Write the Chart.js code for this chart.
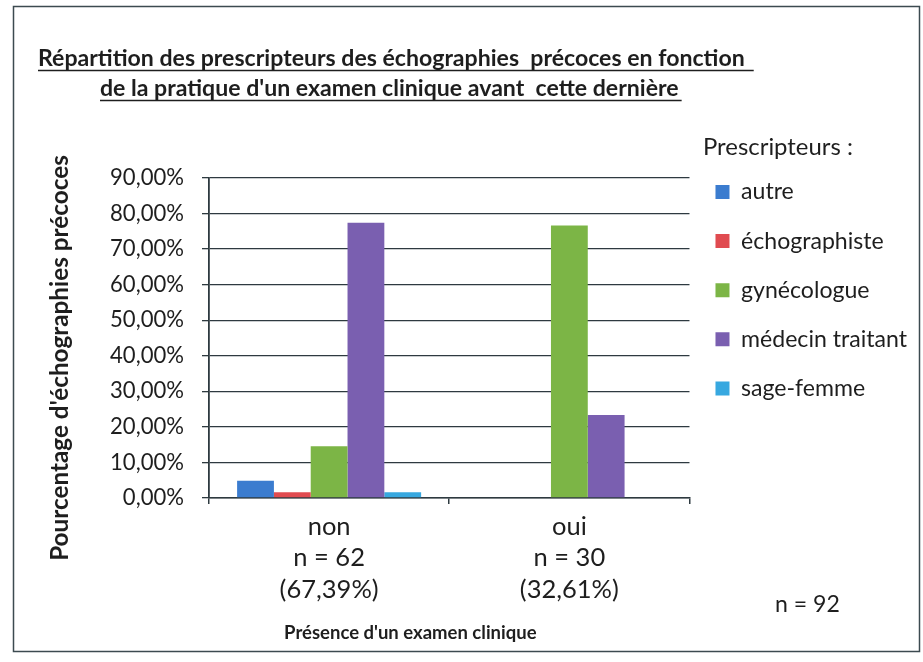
<!DOCTYPE html>
<html>
<head>
<meta charset="utf-8">
<script src="https://cdn.jsdelivr.net/npm/chart.js@4.4.1/dist/chart.umd.min.js"></script>
<style>
  html, body { margin: 0; padding: 0; background: #ffffff; }
  #wrap { position: relative; width: 923px; height: 662px; }
</style>
</head>
<body>
<div id="wrap"><canvas id="c" width="923" height="662"></canvas></div>
<script>
// ---- Data ----
const categories = [
  ["non", "n = 62", "(67,39%)"],
  ["oui", "n = 30", "(32,61%)"]
];
const seriesNames = ["autre", "échographiste", "gynécologue", "médecin traitant", "sage-femme"];
const autre = [4.84, 0];
const echographiste = [1.61, 0];
const gynecologue = [14.52, 76.67];
const medecinTraitant = [77.42, 23.33];
const sageFemme = [1.61, 0];
const yTicks = [0, 10, 20, 30, 40, 50, 60, 70, 80, 90];
const titleLines = [
  "Répartition des prescripteurs des échographies  précoces en fonction",
  "de la pratique d'un examen clinique avant  cette dernière"
];
const yTitle = "Pourcentage d'échographies précoces";
const xTitle = "Présence d'un examen clinique";
const legendTitle = "Prescripteurs :";
const totalLabel = "n = 92";

const colors = ["#3b7ccf", "#e04b50", "#7cb546", "#7a5fb0", "#37a8e0"];
const FONT = "Lato, 'Open Sans', sans-serif";
const INK = '#1e1e1e';
const LINE = '#2e3a40';

const seriesValues = [autre, echographiste, gynecologue, medecinTraitant, sageFemme];

// font size that makes a text reach a given width (to mimic the original's narrower face)
const mctx = document.createElement('canvas').getContext('2d');
function fit(text, weight, width) {
  mctx.font = weight + ' 100px ' + FONT;
  return Math.round(100 * width / mctx.measureText(text).width * 10) / 10;
}
const titleSize = fit(titleLines[0], 'bold', 708);
const tickSize = fit("90,00%", 'normal', 74);
const xLabSize = fit("(67,39%)", 'normal', 99);
const legSize = fit("médecin traitant", 'normal', 166);
const legTitleSize = fit(legendTitle, 'normal', 150);
const xTitleSize = fit(xTitle, 'bold', 252);
const yTitleSize = fit(yTitle, 'bold', 405);
const totalSize = fit(totalLabel, 'normal', 65);
const legPad = Math.round(49.3 - legSize);

const decor = {
  id: 'decor',
  beforeDraw(chart) {
    const ctx = chart.ctx;
    ctx.save();
    ctx.fillStyle = '#ffffff';
    ctx.fillRect(0, 0, chart.width, chart.height);
    ctx.restore();
  },
  afterLayout(chart) {
    // move the legend block up so it starts under its own title
    const lg = chart.legend;
    const top = 192 - legPad - legSize / 2;
    const dy = top - lg.top;
    lg.top += dy; lg.bottom += dy;
  },
  afterDraw(chart) {
    const ctx = chart.ctx;
    ctx.save();
    // frame
    ctx.strokeStyle = '#3c4a50';
    ctx.lineWidth = 1.5;
    ctx.strokeRect(13.5, 6.5, 906, 645);
    // title (underlined)
    ctx.fillStyle = INK;
    ctx.font = "bold " + titleSize + "px " + FONT;
    ctx.textAlign = 'left';
    ctx.textBaseline = 'alphabetic';
    const starts = [38, 100];
    const ys = [66, 96];
    titleLines.forEach((t, i) => {
      ctx.fillText(t, starts[i], ys[i]);
      const w = ctx.measureText(t).width;
      ctx.beginPath();
      ctx.strokeStyle = INK;
      ctx.lineWidth = 1.6;
      ctx.moveTo(starts[i], ys[i] + 4.5);
      ctx.lineTo(starts[i] + w + (i === 0 ? 9 : 3), ys[i] + 4.5);
      ctx.stroke();
    });
    // legend title
    ctx.font = legTitleSize + "px " + FONT;
    ctx.textBaseline = 'middle';
    ctx.fillText(legendTitle, 703, 147);
    // x axis title
    const xs = chart.scales.x;
    ctx.font = "bold " + xTitleSize + "px " + FONT;
    ctx.fillText(xTitle, xs.getPixelForValue(0) - 45, 633);
    // total
    ctx.font = totalSize + "px " + FONT;
    ctx.fillText(totalLabel, 775, 605);
    // y axis title (rotated)
    ctx.translate(60, 358);
    ctx.rotate(-Math.PI / 2);
    ctx.textAlign = 'center';
    ctx.font = "bold " + yTitleSize + "px " + FONT;
    ctx.fillText(yTitle, 0, 0);
    ctx.restore();
  }
};

new Chart(document.getElementById('c'), {
  type: 'bar',
  data: {
    labels: categories,
    datasets: seriesNames.map((n, i) => ({
      label: n,
      data: seriesValues[i],
      backgroundColor: colors[i],
      borderWidth: 0,
      categoryPercentage: 0.766,
      barPercentage: 1.0
    }))
  },
  plugins: [decor],
  options: {
    responsive: false,
    animation: false,
    devicePixelRatio: 1,
    layout: { padding: { top: 178, left: 0, right: 6, bottom: 0 } },
    plugins: {
      title: { display: false },
      tooltip: { enabled: false },
      legend: {
        position: 'right',
        align: 'start',
        labels: {
          boxWidth: 14,
          boxHeight: 14,
          padding: legPad,
          color: INK,
          font: { family: FONT, size: legSize }
        }
      }
    },
    scales: {
      x: {
        afterFit(scale) { scale.height = 662 - 498; },
        grid: {
          display: true,
          drawOnChartArea: false,
          drawTicks: true,
          tickLength: 6,
          color: LINE,
          lineWidth: 1.5,
          offset: true
        },
        border: { display: true, color: LINE, width: 1.5 },
        ticks: {
          color: INK,
          font: { family: FONT, size: xLabSize, lineHeight: 31.5 / xLabSize },
          padding: 7,
          maxRotation: 0
        }
      },
      y: {
        min: 0,
        max: 90,
        afterFit(scale) { scale.width = 209; },
        afterBuildTicks(scale) { scale.ticks = yTicks.map(v => ({ value: v })); },
        grid: {
          color: LINE,
          lineWidth: 1.3,
          tickLength: 7
        },
        border: { display: true, color: LINE, width: 1.8 },
        ticks: {
          color: INK,
          font: { family: FONT, size: tickSize },
          padding: 18,
          callback: (v) => v.toFixed(2).replace('.', ',') + '%'
        },
        title: { display: false }
      }
    }
  }
});
</script>
</body>
</html>
